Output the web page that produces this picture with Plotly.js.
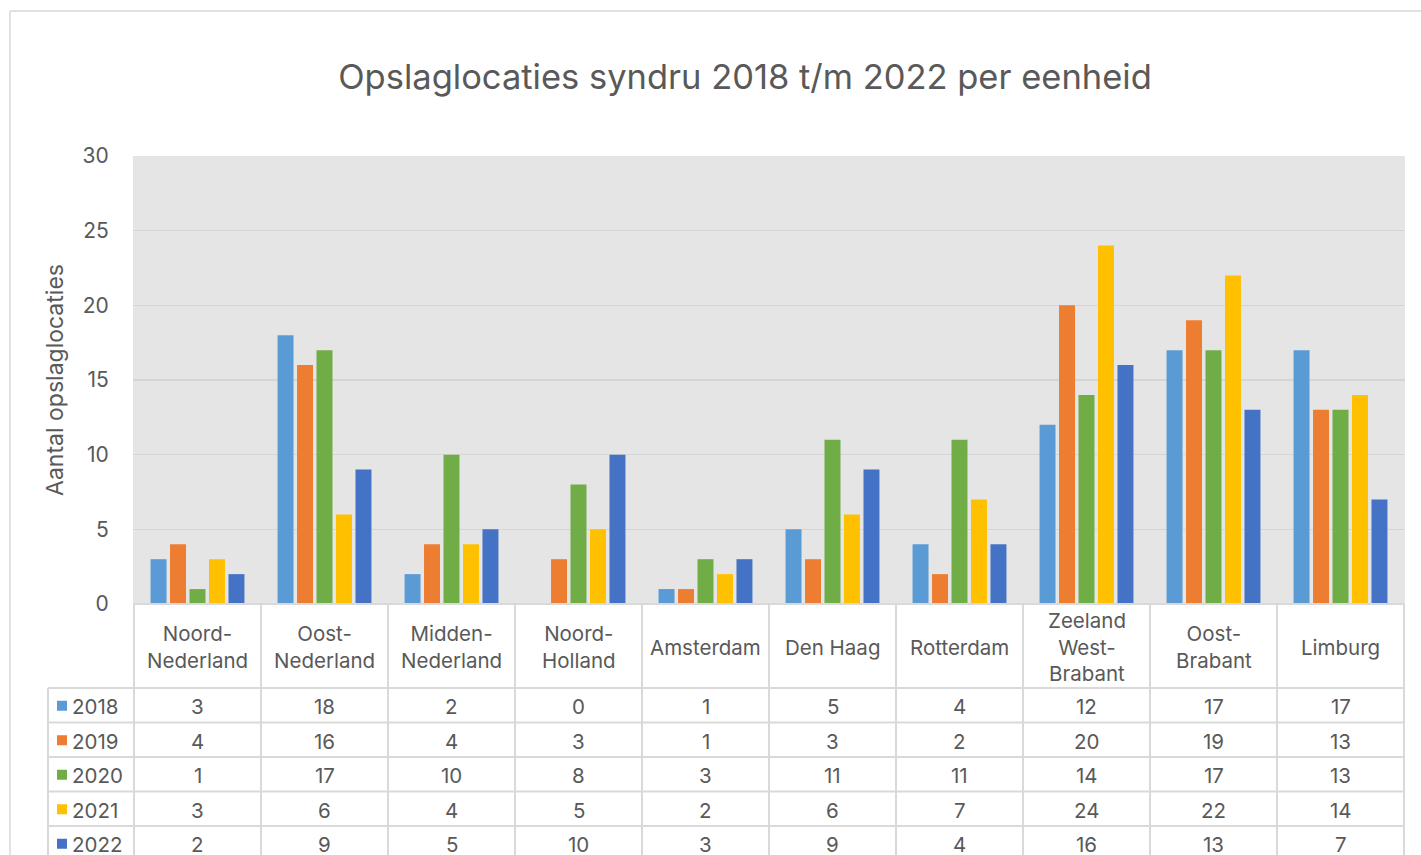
<!DOCTYPE html>
<html>
<head>
<meta charset="utf-8">
<script src="https://cdn.plot.ly/plotly-3.0.1.min.js"></script>
<style>html,body{margin:0;padding:0;background:#fff;}#chart{width:1421px;height:855px;}</style>
</head>
<body>
<div id="chart"></div>
<script>
// ---- data ----
const categories = ["Noord-Nederland","Oost-Nederland","Midden-Nederland","Noord-Holland","Amsterdam","Den Haag","Rotterdam","Zeeland West-Brabant","Oost-Brabant","Limburg"];
const categoryLabels = ["Noord-<br>Nederland","Oost-<br>Nederland","Midden-<br>Nederland","Noord-<br>Holland","Amsterdam","Den Haag","Rotterdam","Zeeland<br>West-<br>Brabant","Oost-<br>Brabant","Limburg"];
const years = ["2018","2019","2020","2021","2022"];
const v2018 = [3,18,2,0,1,5,4,12,17,17];
const v2019 = [4,16,4,3,1,3,2,20,19,13];
const v2020 = [1,17,10,8,3,11,11,14,17,13];
const v2021 = [3,6,4,5,2,6,7,24,22,14];
const v2022 = [2,9,5,10,3,9,4,16,13,7];
const series = [v2018,v2019,v2020,v2021,v2022];
const colors = ["#5B9BD5","#ED7D31","#70AD47","#FFC000","#4472C4"];

// ---- layout geometry (pixels) ----
const W = 1421, H = 855;
const L = 133, R = 1405, T = 156, B = 604;
const pw = R - L, ph = B - T;
const px = p => (p - L) / pw;       // pixel x -> paper
const py = p => (B - p) / ph;       // pixel y -> paper
const FONT = "Inter, 'Open Sans', sans-serif";
const txt = "#595959";
const grid = "#d9d9d9";

const traces = series.map((vals, i) => ({
  type: "bar",
  name: years[i],
  x: categories,
  y: vals,
  marker: {color: colors[i]},
  hoverinfo: "x+y+name"
}));

const headerBottom = 688;
const rowH = 34.5;
const rowTops = [688, 722.5, 757, 791.5, 826];
const legLeft = 48;

const shapes = [];
const annotations = [];
const lineStyle = {color: grid, width: 2};

// outer chart border
shapes.push({type:"line", xref:"paper", yref:"paper", x0:px(10), x1:px(1425), y0:py(11), y1:py(11), line:{color:"#d9d9d9", width:1.5}});
shapes.push({type:"line", xref:"paper", yref:"paper", x0:px(10), x1:px(10), y0:py(11), y1:py(860), line:{color:"#d9d9d9", width:1.5}});

// table horizontal lines
shapes.push({type:"line", xref:"paper", yref:"paper", x0:0, x1:1, y0:py(B), y1:py(B), line:lineStyle});
rowTops.forEach(t => {
  shapes.push({type:"line", xref:"paper", yref:"paper", x0:px(legLeft), x1:1, y0:py(t), y1:py(t), line:lineStyle});
});
// table vertical lines at category boundaries
for (let k = 0; k <= categories.length; k++) {
  shapes.push({type:"line", xref:"x", yref:"paper", x0:k-0.5, x1:k-0.5, y0:py(B), y1:py(H+5), line:lineStyle});
}
shapes.push({type:"line", xref:"paper", yref:"paper", x0:px(legLeft), x1:px(legLeft), y0:py(headerBottom), y1:py(H+5), line:lineStyle});

const TS = 20.5;
// header labels
categories.forEach((c, k) => {
  annotations.push({xref:"x", yref:"paper", x:c, y:py((B+headerBottom)/2 + 1), text:categoryLabels[k], showarrow:false,
    font:{family:FONT, size:TS, color:txt}, xanchor:"center", yanchor:"middle", align:"center"});
});
// rows
series.forEach((vals, i) => {
  const cy = py(rowTops[i] + rowH/2 + 1.5);
  const ky = py(rowTops[i] + rowH/2 + 0.5);
  // legend key
  shapes.push({type:"rect", xref:"paper", yref:"paper", x0:px(57), x1:px(67), y0:ky-5/ph, y1:ky+5/ph, fillcolor:colors[i], line:{width:0}});
  annotations.push({xref:"paper", yref:"paper", x:px(70), y:cy, text:years[i], showarrow:false,
    font:{family:FONT, size:TS, color:txt}, xanchor:"left", yanchor:"middle"});
  vals.forEach((v, k) => {
    annotations.push({xref:"x", yref:"paper", x:categories[k], y:cy, text:String(v), showarrow:false,
      font:{family:FONT, size:TS, color:txt}, xanchor:"center", yanchor:"middle"});
  });
});

const layout = {
  width: W, height: H,
  margin: {l:L, r:W-R, t:T, b:H-B, pad:0},
  paper_bgcolor: "#ffffff",
  plot_bgcolor: "#e5e5e5",
  title: {text:"Opslaglocaties syndru 2018 t/m 2022 per eenheid", x:px(745), xref:"paper", xanchor:"center",
          y:1-77/H, yanchor:"middle", font:{family:FONT, size:34.5, color:txt}},
  barmode: "group",
  bargap: 0.233,
  bargroupgap: 0.18,
  showlegend: false,
  xaxis: {showticklabels:false, showgrid:false, zeroline:false, showline:false, ticks:"", fixedrange:true},
  yaxis: {range:[0,30], dtick:5, tick0:0, showgrid:true, gridcolor:"#d5d5d5", gridwidth:1.5, zeroline:false, showline:false,
          ticks:"outside", ticklen:19, tickcolor:"rgba(0,0,0,0)",
          tickfont:{family:FONT, size:21, color:txt},
          title:{text:"Aantal opslaglocaties", font:{family:FONT, size:23, color:txt}, standoff:12},
          automargin:false, fixedrange:true},
  shapes: shapes,
  annotations: annotations
};

Plotly.newPlot("chart", traces, layout, {displayModeBar:false, staticPlot:true});
</script>
</body>
</html>
